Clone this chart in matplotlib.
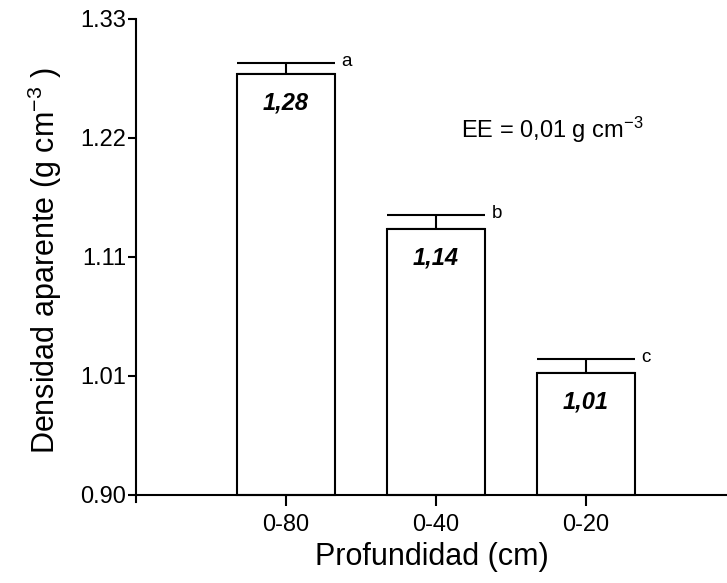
import numpy as np
import matplotlib
matplotlib.use('Agg')
import matplotlib.pyplot as plt

plt.rcParams['font.family'] = ['Liberation Sans', 'DejaVu Sans']
plt.rcParams['mathtext.fontset'] = 'custom'
plt.rcParams['mathtext.rm'] = 'Liberation Sans'
plt.rcParams['mathtext.it'] = 'Liberation Sans:italic'

# data
depths = ['0-80', '0-40', '0-20']
density = [1.28, 1.14, 1.01]
err = [0.010, 0.013, 0.013]
letters = ['a', 'b', 'c']
value_labels = ['1,28', '1,14', '1,01']
yticks = np.linspace(0.90, 1.33, 5)
ytick_labels = ['0.90', '1.01', '1.11', '1.22', '1.33']

base = 0.90
fig = plt.figure(figsize=(7.27, 5.83), dpi=100)
ax = fig.add_axes([0.187, 0.139, 0.813, 0.8285])

x = np.arange(len(depths))
heights = [v - base for v in density]
ax.bar(x, heights, bottom=base, width=0.65, color='white', edgecolor='black',
       linewidth=1.5, zorder=2)
ax.errorbar(x, density, yerr=[np.zeros(len(err)), err], fmt='none', ecolor='black',
            elinewidth=1.5, capsize=35, capthick=1.5, zorder=1)

for xi, v, e, lt, vl in zip(x, density, err, letters, value_labels):
    ax.annotate(lt, (xi + 0.325, v + e), xytext=(5, 1), textcoords='offset points',
                ha='left', va='center', fontsize=13.5)
    ax.annotate(vl, (xi, v), xytext=(0, -21), textcoords='offset points',
                ha='center', va='center', fontsize=17, fontweight='bold', fontstyle='italic')

ax.text(1.17, 1.2225, r'EE = 0,01 g cm$^{-3}$', fontsize=17, va='baseline')

ax.set_xlim(-1.0, 2.94)
ax.set_ylim(0.8937, 1.33)
ax.spines['bottom'].set_position(('data', base))
ax.set_xticks(x)
ax.set_xticklabels(depths, fontsize=17)
ax.set_yticks(yticks)
ax.set_yticklabels(ytick_labels, fontsize=17)
ax.tick_params(axis='y', length=6, width=1.5, pad=1)
ax.tick_params(axis='x', length=8, width=1.5, pad=6)

for s in ['top', 'right']:
    ax.spines[s].set_visible(False)
for s in ['left', 'bottom']:
    ax.spines[s].set_linewidth(1.5)

ax.set_xlabel('Profundidad (cm)', fontsize=22, labelpad=4)
ax.set_ylabel(r'Densidad aparente (g cm$^{-3}$ )', fontsize=22, labelpad=12)

fig.savefig('out.png', dpi=100)
